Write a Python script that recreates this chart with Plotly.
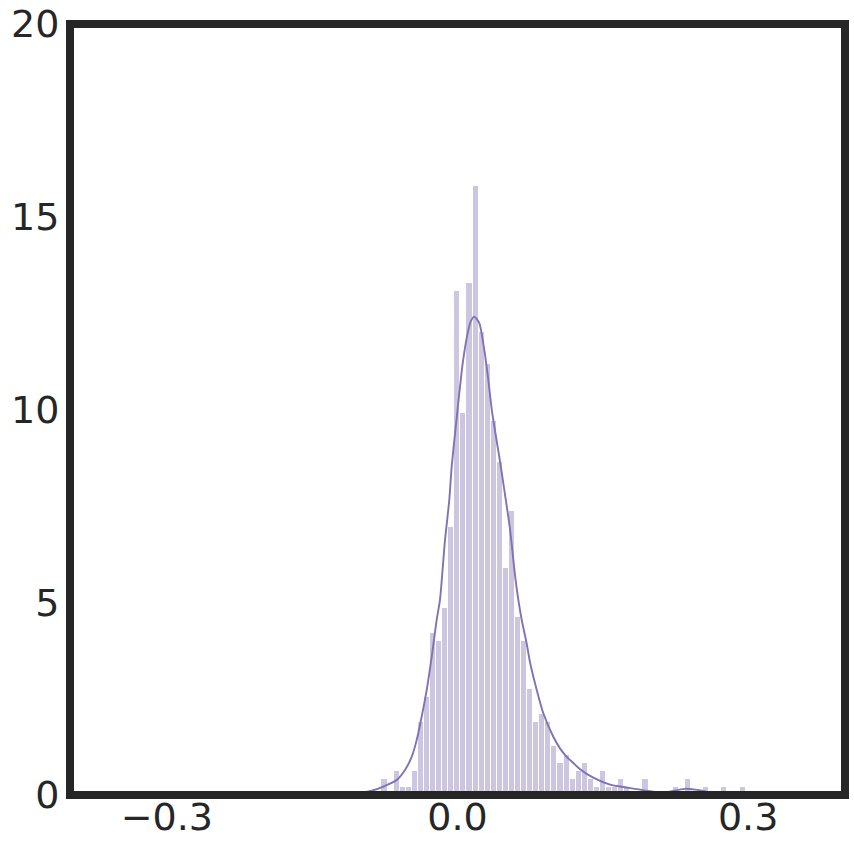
import numpy as np
import plotly.graph_objects as go

# histogram: 60 bins starting at bin_start, heights read as density
bin_start = -0.0785
bin_width = 0.006266
hist_density = [
    0.42, 0.0, 0.63, 0.21, 0.21, 0.63, 1.90, 2.53, 4.21, 4.00,
    4.84, 6.95, 13.07, 9.90, 13.28, 15.80, 12.01, 11.17, 9.69, 8.64,
    5.90, 7.37, 4.63, 4.00, 2.74, 1.90, 2.11, 1.90, 1.26, 0.84,
    1.05, 0.42, 0.63, 0.84, 0.42, 0.21, 0.63, 0.21, 0.21, 0.42,
    0.21, 0.0, 0.0, 0.42, 0.0, 0.0, 0.0, 0.0, 0.21, 0.0,
    0.42, 0.0, 0.0, 0.21, 0.0, 0.0, 0.21, 0.0, 0.0, 0.21,
]

# kernel density estimate
kde_x = [
    -0.1213, -0.1058, -0.0886, -0.0766, -0.0628, -0.0542, -0.0473, -0.0421,
    -0.0370, -0.0318, -0.0266, -0.0215, -0.0181, -0.0129, -0.0085, -0.0060,
    -0.0012, 0.0054, 0.0105, 0.0139, 0.0173, 0.0225, 0.0277, 0.0318,
    0.0356, 0.0439, 0.0490, 0.0542, 0.0594, 0.0628, 0.0663, 0.0714,
    0.0748, 0.0800, 0.0886, 0.0989, 0.1058, 0.1127, 0.1161, 0.1265,
    0.1402, 0.1574, 0.1677, 0.1832, 0.2039, 0.2142, 0.2214, 0.2348,
    0.2452, 0.2524, 0.2658, 0.2813, 0.3019, 0.3226,
]
kde_y = [
    0.0, 0.03, 0.11, 0.22, 0.39, 0.65, 0.99, 1.43,
    2.03, 2.72, 3.59, 4.54, 5.06, 6.61, 7.65, 8.52,
    9.70, 11.2, 11.98, 12.3, 12.41, 12.24, 11.54, 10.77,
    9.95, 8.65, 7.80, 6.90, 5.70, 5.06, 4.54, 3.93,
    3.45, 2.90, 2.12, 1.51, 1.21, 0.99, 0.91, 0.67,
    0.45, 0.27, 0.22, 0.16, 0.08, 0.06, 0.10, 0.16,
    0.14, 0.11, 0.05, 0.02, 0.01, 0.0,
]

x_ticks = [-0.3, 0.0, 0.3]
x_ticktext = ["−0.3", "0.0", "0.3"]
y_ticks = [0, 5, 10, 15, 20]

purple = "#8172B3"
ink = "#262626"

bin_centers = bin_start + bin_width * (np.arange(len(hist_density)) + 0.5)

fig = go.Figure()

fig.add_trace(go.Bar(
    x=bin_centers, y=hist_density, width=bin_width,
    marker=dict(color="#CCC6E0", line=dict(color="white", width=1)),
    showlegend=False, hoverinfo="skip"
))

fig.add_trace(go.Scatter(
    x=kde_x, y=kde_y, mode="lines",
    line=dict(color=purple, width=1.9, shape="spline", smoothing=0.6),
    showlegend=False, hoverinfo="skip"
))

# frame drawn as a shape so the line is centred on the plot edge (matplotlib style)
fig.add_shape(
    type="rect", xref="paper", yref="paper", x0=0, x1=1, y0=0, y1=1,
    line=dict(color=ink, width=8), layer="above"
)

fig.update_layout(
    width=854,
    height=852,
    margin=dict(l=70, r=9, t=24, b=57),
    plot_bgcolor="white",
    paper_bgcolor="white",
    bargap=0,
    font=dict(family="DejaVu Sans", size=38, color=ink),
    xaxis=dict(
        range=[-0.4, 0.4], tickvals=x_ticks, ticktext=x_ticktext,
        showgrid=False, zeroline=False, showline=False, automargin=False,
        ticks="", ticklabelstandoff=-4, ticklabeloverflow="allow"
    ),
    yaxis=dict(
        range=[0, 20], tickvals=y_ticks,
        showgrid=False, zeroline=False, showline=False, automargin=False,
        ticks="outside", ticklen=2, tickcolor="rgba(0,0,0,0)",
        ticklabeloverflow="allow"
    ),
)

# drop the default 8px body margin so the figure fills the window exactly
fig.write_html(
    "out.html",
    config={"displayModeBar": False},
    post_script="document.body.style.margin = '0';",
)
